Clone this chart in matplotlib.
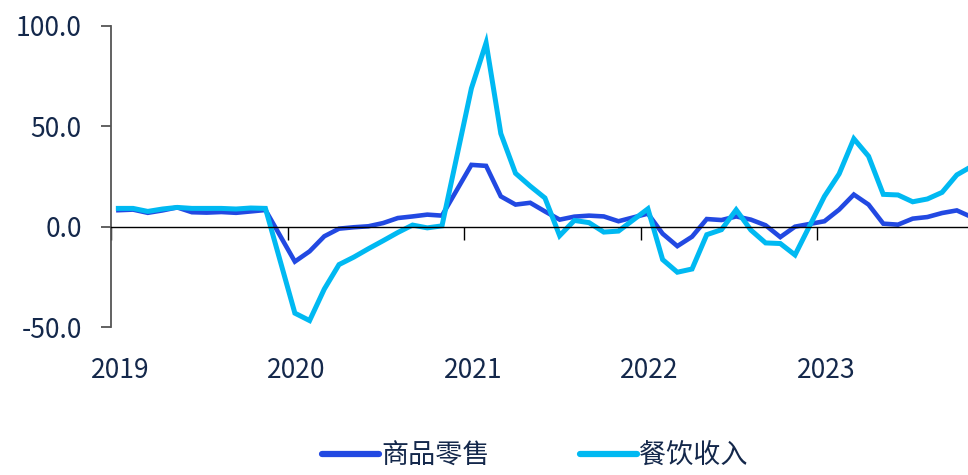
import numpy as np
import matplotlib.pyplot as plt
from matplotlib.transforms import blended_transform_factory

plt.rcParams['font.family'] = ['Noto Sans CJK SC', 'DejaVu Sans']
plt.rcParams['axes.unicode_minus'] = False

# 年份, 每年 11 个点 (1-2月合并, 3月 ... 12月)
years = ['2019', '2020', '2021', '2022', '2023']

retail_2019 = [8.2, 8.5, 6.9, 8.1, 9.6, 7.2, 7.0, 7.3, 6.9, 7.6, 8.3]
retail_2020 = [-17.4, -12.3, -4.8, -1.0, -0.3, 0.2, 1.8, 4.3, 5.1, 6.0, 5.5]
retail_2021 = [30.8, 30.3, 15.1, 11.0, 11.9, 7.6, 3.5, 5.0, 5.5, 5.1, 2.7]
retail_2022 = [6.5, -3.5, -9.7, -5.0, 3.8, 3.3, 5.1, 3.5, 0.7, -5.2, 0.0]
retail_2023 = [2.7, 8.5, 16.0, 11.0, 1.5, 1.0, 4.0, 4.8, 6.8, 8.1, 4.8]

catering_2019 = [9.1, 9.1, 7.6, 8.8, 9.6, 9.1, 9.1, 9.1, 8.8, 9.3, 9.1]
catering_2020 = [-43.1, -46.8, -31.1, -18.9, -15.2, -11.0, -7.0, -2.9, 0.8, -0.6, 0.4]
catering_2021 = [68.9, 91.6, 46.4, 26.6, 20.2, 14.3, -4.5, 3.1, 2.0, -2.7, -2.2]
catering_2022 = [8.9, -16.4, -22.7, -21.1, -4.0, -1.5, 8.4, -1.7, -8.1, -8.4, -14.1]
catering_2023 = [15.1, 26.3, 43.8, 35.1, 16.1, 15.8, 12.4, 13.8, 17.1, 25.8, 30.0]

retail = np.concatenate([retail_2019, retail_2020, retail_2021, retail_2022, retail_2023])
catering = np.concatenate([catering_2019, catering_2020, catering_2021, catering_2022, catering_2023])

# 每年 12 个月槽位, 第 12 个槽位空缺
x = np.array([12 * y + k + 0.5 for y in range(len(years)) for k in range(11)])

text_color = '#14284B'
c_retail = '#2249E2'
c_catering = '#00B9F2'

fig = plt.figure(figsize=(9.68, 4.75), dpi=100)
ax = fig.add_axes([111 / 968, 1 - 327 / 475, 1 - 111 / 968, (327 - 26) / 475])

ax.plot(x, retail, color=c_retail, lw=3.3, label='商品零售', solid_joinstyle='miter')
ax.plot(x, catering, color=c_catering, lw=3.6, label='餐饮收入', solid_joinstyle='miter')

ax.set_xlim(0, 58.26)
ax.set_ylim(-50, 100)
ax.set_yticks([-50, 0, 50, 100])
ax.set_yticklabels(['%.1f' % v for v in [-50, 0, 50, 100]])

ax.spines['top'].set_visible(False)
ax.spines['right'].set_visible(False)
ax.spines['left'].set_color('#555555')
ax.spines['left'].set_linewidth(1.3)
ax.spines['bottom'].set_position(('data', 0))
ax.spines['bottom'].set_color('black')
ax.spines['bottom'].set_linewidth(1.0)

ax.set_xticks([0, 12, 24, 36, 48])
ax.set_xticklabels([])
ax.tick_params(axis='x', direction='out', length=9, width=1.0, color='black')
ax.tick_params(axis='y', direction='out', length=7, width=1.3, color='#555555',
               labelsize=19, labelcolor=text_color, pad=14)

trans = blended_transform_factory(ax.transData, ax.transAxes)
for i, yr in enumerate(years):
    ax.text(12 * i + 0.6, -0.143, yr, transform=trans, ha='center', va='center',
            fontsize=19, color=text_color, clip_on=False)

handles, labels = ax.get_legend_handles_labels()
leg = fig.legend(handles, labels, loc='center', bbox_to_anchor=(535 / 968, 19 / 475),
                 ncol=2, frameon=False, fontsize=19.5, handlelength=2.1,
                 handletextpad=0.1, columnspacing=3.3, borderpad=0.2)
for t in leg.get_texts():
    t.set_color(text_color)
for h in leg.legend_handles:
    h.set_linewidth(4.5)
    h.set_solid_capstyle('round')

fig.savefig('out.png', dpi=100)
